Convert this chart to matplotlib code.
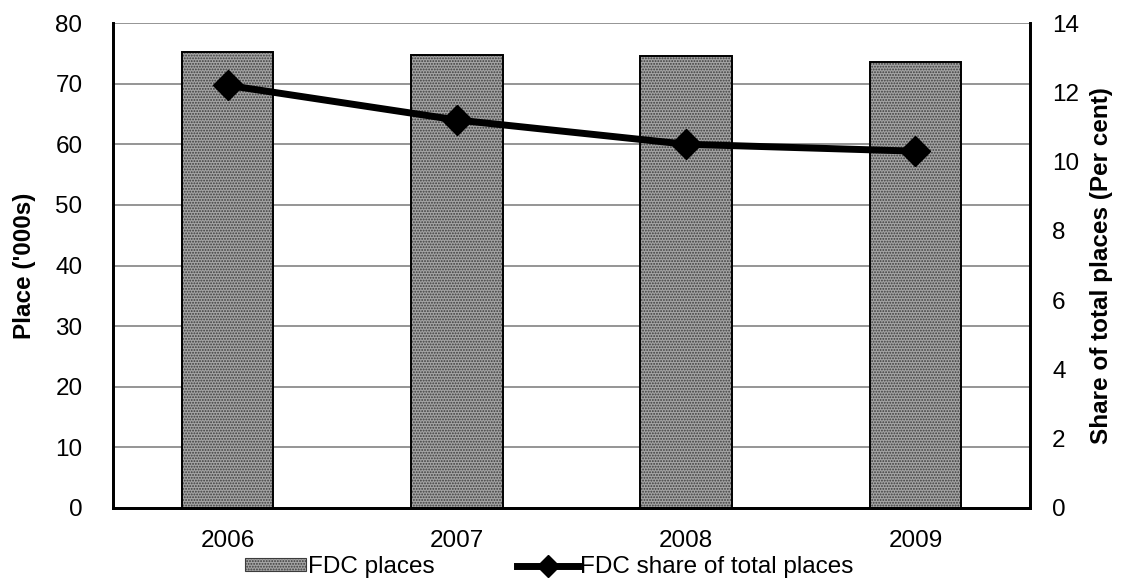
import matplotlib.pyplot as plt
import numpy as np
from matplotlib.patches import Patch
from matplotlib.lines import Line2D

plt.rcParams["font.family"] = ["Liberation Sans", "DejaVu Sans"]
plt.rcParams["hatch.color"] = "#3c3c3c"
plt.rcParams["hatch.linewidth"] = 0.9

years = ["2006", "2007", "2008", "2009"]
fdc_places = [75.2, 74.8, 74.5, 73.5]
fdc_share = [12.2, 11.2, 10.5, 10.3]

fig = plt.figure(figsize=(11.21, 5.84), dpi=100)
ax = fig.add_axes([113 / 1121, 1 - 508 / 584, (1030 - 113) / 1121, (508 - 23) / 584])
ax2 = ax.twinx()

x = np.arange(len(years))
fs = 17.5

# bars: hatched fill, then black outline on top
ax.bar(x, fdc_places, width=0.4, color="#a4a4a4", hatch="......", edgecolor="#3c3c3c",
       linewidth=0, zorder=2)
ax.bar(x, fdc_places, width=0.4, fill=False, edgecolor="black", linewidth=1.4, zorder=3)

ax.set_ylim(0, 80)
ax.set_yticks(range(0, 81, 10))
ax.set_xlim(-0.5, 3.5)
ax.set_xticks(x)
ax.set_xticklabels(years)
ax.yaxis.grid(True, color="#8c8c8c", linewidth=1.3)
ax.set_axisbelow(True)
ax.tick_params(axis="y", length=0, labelsize=fs, pad=22)
ax.tick_params(axis="x", length=0, labelsize=fs, pad=16)
ax.set_ylabel("Place ('000s)", fontsize=fs, fontweight="bold", labelpad=14)

ax2.plot(x, fdc_share, color="black", linewidth=5, marker="D", markersize=15, zorder=4)
ax2.set_ylim(0, 14)
ax2.set_yticks(range(0, 15, 2))
ax2.tick_params(length=0, labelsize=fs, pad=16)
ax2.set_ylabel("Share of total places (Per cent)", fontsize=fs, fontweight="bold", labelpad=8)

for a in (ax, ax2):
    a.spines["top"].set_visible(False)
    for s in ("left", "right", "bottom"):
        a.spines[s].set_linewidth(2)
        a.spines[s].set_color("black")

# legend
h1 = Patch(facecolor="#a4a4a4", hatch="......", edgecolor="#3c3c3c", linewidth=0.8)
h2 = Line2D([], [], color="black", linewidth=5, marker="D", markersize=11)
fig.legend([h1, h2], ["FDC places", "FDC share of total places"], loc="lower center",
           bbox_to_anchor=(0.49, -0.028), ncol=2, frameon=False, fontsize=fs,
           handlelength=2.5, handleheight=0.45, handletextpad=0.1, columnspacing=3.4)

fig.savefig("out.png", dpi=100)
